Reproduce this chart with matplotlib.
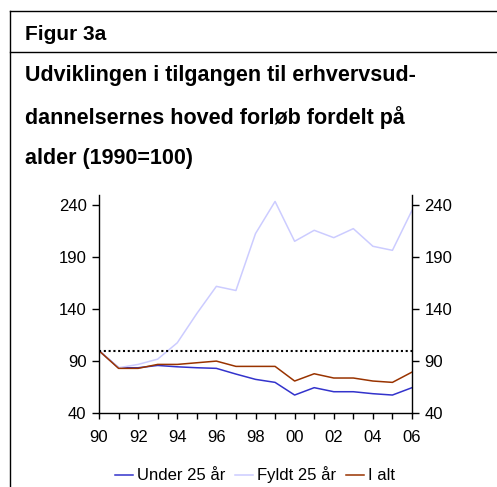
import matplotlib
matplotlib.use("Agg")
import matplotlib.pyplot as plt
from matplotlib.lines import Line2D

plt.rcParams['font.family'] = ['Liberation Sans', 'DejaVu Sans']

# data (1990=100)
years = list(range(1990, 2007))
under25 = [100, 83.6, 83.6, 85.8, 84.5, 83.6, 83.0, 77.5, 72.4, 69.5,
           57.3, 64.4, 60.5, 60.5, 58.6, 57.3, 64.4]
fyldt25 = [100, 83.6, 86.8, 91.9, 107.6, 135.8, 162.0, 158.0, 212.8, 243.8,
           205.4, 216.0, 208.9, 217.6, 200.6, 196.7, 235.2]
ialt = [100, 83.0, 83.0, 86.8, 86.8, 88.4, 90.0, 84.9, 84.9, 84.9,
        70.8, 77.8, 73.7, 73.7, 70.8, 69.5, 79.4]
yticks = [40, 90, 140, 190, 240]
xlabels = ['90', '', '92', '', '94', '', '96', '', '98', '', '00', '', '02', '', '04', '', '06']
series_names = ['Under 25 år', 'Fyldt 25 år', 'I alt']
colors = ['#3333CC', '#CCCCFF', '#993300']

W, H = 497, 487
fig = plt.figure(figsize=(W / 100, H / 100), dpi=100)

def fx(px):
    return px / W

def fy(py):
    return 1 - py / H

# frame lines of the box
fig.add_artist(Line2D([fx(10), 1], [fy(11), fy(11)], color='black', lw=1))
fig.add_artist(Line2D([fx(10), 1], [fy(52), fy(52)], color='black', lw=1))
fig.add_artist(Line2D([fx(10), fx(10)], [fy(11), 0], color='black', lw=1))

# headings
fig.text(fx(25), fy(40), 'Figur 3a', fontsize=15, fontweight='bold', va='baseline')
title_lines = ['Udviklingen i tilgangen til erhvervsud-',
               'dannelsernes hoved forløb fordelt på',
               'alder (1990=100)']
for yy, line in zip([81, 124, 164], title_lines):
    fig.text(fx(25), fy(yy), line, fontsize=15.5, fontweight='bold', va='baseline')

ax = fig.add_axes([fx(99), fy(413), fx(412) - fx(99), fy(195) - fy(413)])
ax.plot(years, under25, color=colors[0], lw=1.1, label=series_names[0])
ax.plot(years, fyldt25, color=colors[1], lw=1.1, label=series_names[1])
ax.plot(years, ialt, color=colors[2], lw=1.1, label=series_names[2])
ax.plot([years[0], years[-1]], [100, 100], color='black', lw=1.5, linestyle=(0, (1, 1.3)))

ax.set_xlim(1990, 2006)
ax.set_ylim(40, 250)
ax.set_yticks(yticks)
ax.set_xticks(years)
ax.set_xticklabels(xlabels)
ax.spines['top'].set_visible(False)
for s in ['left', 'right', 'bottom']:
    ax.spines[s].set_linewidth(1)
ax.tick_params(axis='y', which='both', direction='out', length=5, width=1,
               labelsize=12, left=True, right=True, labelleft=True, labelright=True, pad=4)
ax.tick_params(axis='x', direction='out', length=4, width=1, labelsize=12, pad=8)

fig.legend(loc='center', bbox_to_anchor=(fx(255), fy(475)), ncol=3, frameon=False,
           fontsize=12, handlelength=1.1, handletextpad=0.25, columnspacing=0.55)

fig.savefig('out.png', dpi=100)
